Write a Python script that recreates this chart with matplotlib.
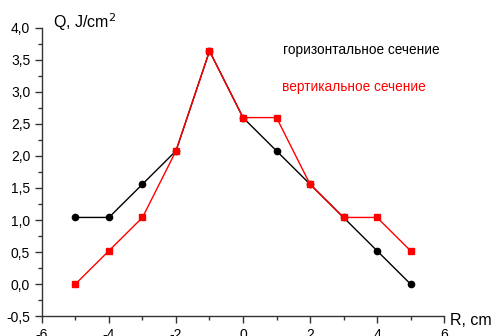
import numpy as np
import matplotlib.pyplot as plt
from matplotlib.ticker import MultipleLocator, FuncFormatter

plt.rcParams['font.family'] = ['Liberation Sans', 'DejaVu Sans']

r = [-5, -4, -3, -2, -1, 0, 1, 2, 3, 4, 5]
q_hor = [1.04, 1.04, 1.56, 2.08, 3.64, 2.6, 2.08, 1.56, 1.04, 0.52, 0.0]
q_ver = [0.0, 0.52, 1.04, 2.08, 3.64, 2.6, 2.6, 1.56, 1.04, 1.04, 0.52]

fig = plt.figure(figsize=(4.98, 3.36), dpi=100)
ax = fig.add_axes([0.0843, 0.0595, 0.8073, 0.8572])

ax.plot(r, q_hor, 'o-', color='black', lw=1, ms=4.5, zorder=3)
ax.plot(r, q_ver, 's-', color='red', lw=1, ms=5, zorder=4)

ax.set_xlim(-6, 6)
ax.set_ylim(-0.5, 4.0)
ax.xaxis.set_major_locator(MultipleLocator(2))
ax.xaxis.set_minor_locator(MultipleLocator(1))
ax.yaxis.set_major_locator(MultipleLocator(0.5))
ax.yaxis.set_minor_locator(MultipleLocator(0.25))
ax.yaxis.set_major_formatter(FuncFormatter(lambda v, p: ('%.1f' % v).replace('.', ',')))
ax.xaxis.set_major_formatter(FuncFormatter(lambda v, p: '%d' % v))

for s in ['top', 'right']:
    ax.spines[s].set_visible(False)
for s in ['left', 'bottom']:
    ax.spines[s].set_linewidth(1)
    ax.spines[s].set_color('#333333')

ax.tick_params(which='major', direction='out', length=5, width=1, labelsize=10, color='#333333')
ax.tick_params(which='minor', direction='out', length=3, width=1, color='#333333')

ax.text(0.027, 1.02, 'Q, J/cm$^2$', transform=ax.transAxes, fontsize=11.5, va='center')
ax.text(1.015, -0.015, 'R, cm', transform=ax.transAxes, fontsize=11.5, va='center')

ax.text(0.6, 0.924, 'горизонтальное сечение', transform=ax.transAxes, fontsize=9.8, color='black', va='center')
ax.text(0.597, 0.795, 'вертикальное сечение', transform=ax.transAxes, fontsize=9.8, color='red', va='center')

fig.savefig('out.png', dpi=100)
